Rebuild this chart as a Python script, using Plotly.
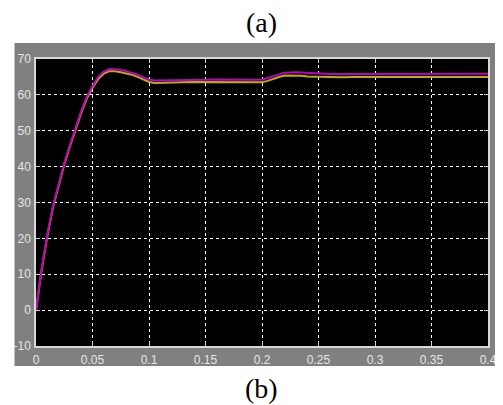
import plotly.graph_objects as go

# time axis (s)
t = [0, 0.002, 0.005, 0.01, 0.015, 0.02, 0.025, 0.03, 0.035, 0.04, 0.045, 0.05,
     0.055, 0.06, 0.065, 0.07, 0.075, 0.08, 0.085, 0.09, 0.095, 0.1, 0.105, 0.11,
     0.12, 0.13, 0.14, 0.15, 0.16, 0.17, 0.18, 0.19, 0.2, 0.205, 0.21, 0.215, 0.22,
     0.23, 0.235, 0.24, 0.25, 0.26, 0.27, 0.28, 0.3, 0.35, 0.4]

magenta_vals = [0, 5, 11.5, 21, 29, 35, 41, 46, 51, 55.5, 59.5, 62.5,
                65, 66.5, 67.2, 67.2, 67, 66.6, 66.2, 65.6, 64.9, 64.3, 64.0, 64.0,
                64.0, 64.1, 64.2, 64.2, 64.3, 64.2, 64.2, 64.2, 64.2, 64.7, 65.3, 65.8, 66.2,
                66.3, 66.2, 66.0, 65.9, 65.8, 65.8, 65.8, 65.9, 65.9, 65.9]

yellow_vals = [0, 4.8, 11.2, 20.6, 28.6, 34.6, 40.6, 45.6, 50.6, 55, 59, 62,
               64.4, 65.9, 66.6, 66.6, 66.3, 66, 65.6, 65, 64.3, 63.6, 63.3, 63.3,
               63.3, 63.5, 63.6, 63.6, 63.7, 63.6, 63.6, 63.6, 63.5, 63.9, 64.5, 65, 65.4,
               65.4, 65.3, 65.1, 65.0, 65.0, 64.9, 65.0, 65.0, 65.0, 65.0]

x_ticks = [0, 0.05, 0.1, 0.15, 0.2, 0.25, 0.3, 0.35, 0.4]
x_tick_labels = ["0", "0.05", "0.1", "0.15", "0.2", "0.25", "0.3", "0.35", "0.4"]
y_ticks = [-10, 0, 10, 20, 30, 40, 50, 60, 70]
y_tick_labels = ["-10", "0", "10", "20", "30", "40", "50", "60", "70"]

OFF = 8  # page body margin
W, H = 503 - OFF, 405 - OFF
L, R, T, B = 34 - OFF, 6, 59 - OFF, 59
pw, ph = W - L - R, H - T - B

def px_x(p):
    return (p - OFF - L) / pw

def px_y(p):
    return (H - B - (p - OFF)) / ph

fig = go.Figure()
fig.add_trace(go.Scatter(x=t, y=yellow_vals, mode="lines",
                         line=dict(color="#b4b400", width=2), showlegend=False))
fig.add_trace(go.Scatter(x=t, y=magenta_vals, mode="lines",
                         line=dict(color="#c000c0", width=2), showlegend=False))

shapes = [
    dict(type="rect", xref="paper", yref="paper",
         x0=px_x(12), x1=px_x(510), y0=px_y(366), y1=px_y(43),
         fillcolor="#808080", line=dict(width=0), layer="below"),
    dict(type="rect", xref="paper", yref="paper",
         x0=0, x1=1, y0=0, y1=1,
         fillcolor="#000000", line=dict(width=0), layer="below"),
]

axis_common = dict(
    showgrid=True, gridcolor="#ffffff", griddash="dot", gridwidth=1,
    zeroline=False, showline=True, linecolor="#d8d8d8", linewidth=1.5,
    mirror="ticks", ticks="inside", ticklen=4, tickcolor="#c8c8c8",
    tickfont=dict(family="Liberation Sans, Arial", size=12, color="#e6e6e6"),
)

fig.update_layout(
    width=W, height=H,
    margin=dict(l=L, r=R, t=T, b=B, pad=0),
    paper_bgcolor="#ffffff", plot_bgcolor="rgba(0,0,0,0)",
    shapes=shapes,
    xaxis=dict(range=[0, 0.4], tickvals=x_ticks, ticktext=x_tick_labels,
               ticklabelstandoff=2, ticklabeloverflow="allow", **axis_common),
    yaxis=dict(range=[-10, 70], tickvals=y_ticks, ticktext=y_tick_labels,
               ticklabelstandoff=1, ticklabeloverflow="allow", **axis_common),
    annotations=[
        dict(text="(a)", xref="paper", yref="paper", x=px_x(264.5), y=px_y(23),
             xanchor="center", yanchor="middle", showarrow=False,
             font=dict(family="Liberation Serif, Times New Roman", size=28, color="#000")),
        dict(text="(b)", xref="paper", yref="paper", x=px_x(264.5), y=px_y(389),
             xanchor="center", yanchor="middle", showarrow=False,
             font=dict(family="Liberation Serif, Times New Roman", size=28, color="#000")),
    ],
)

fig.write_html("out.html")
